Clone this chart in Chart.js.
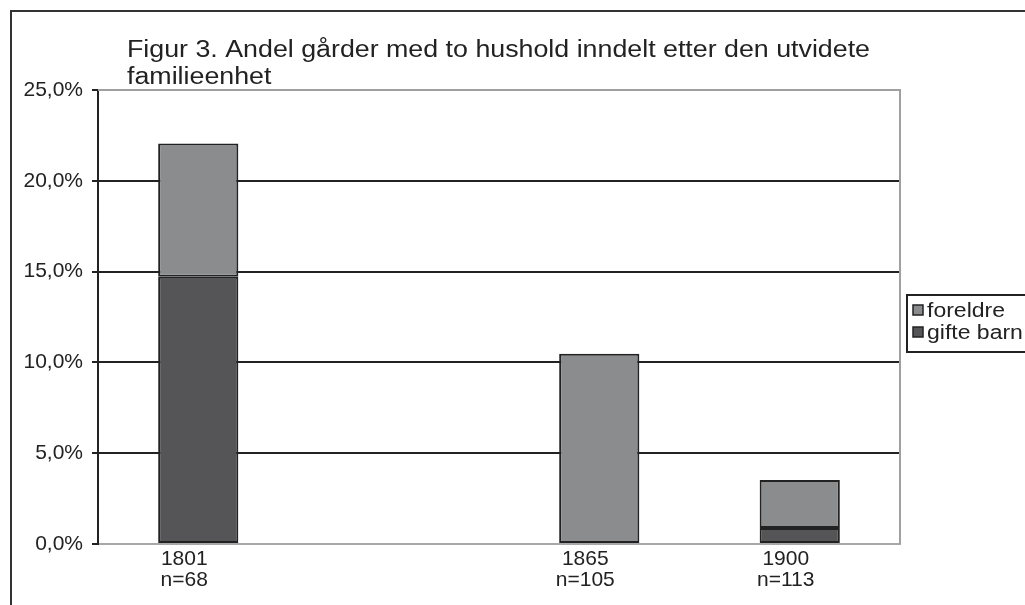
<!DOCTYPE html>
<html>
<head>
<meta charset="utf-8">
<script src="https://cdn.jsdelivr.net/npm/chart.js@4/dist/chart.umd.min.js"></script>
<style>
  html, body { margin: 0; padding: 0; background: #fff; }
  canvas { display: block; }
</style>
</head>
<body>
<canvas id="c" width="1025" height="605"></canvas>
<script>
const categories = ['1801', '', '1865', '1900'];
const nLabels = ['n=68', '', 'n=105', 'n=113'];
const foreldre = [7.35, null, 10.48, 2.65];
const gifteBarn = [14.71, null, 0, 0.88];
const seriesNames = ['foreldre', 'gifte barn'];
const titleLines = ['Figur 3. Andel gårder med to hushold inndelt etter den utvidete', 'familieenhet'];
const yMin = 0, yMax = 25, yStep = 5;

const FONT = '"Liberation Sans", Arial, sans-serif';
const colForeldre = '#8b8c8e';
const colGifte = '#555557';
const colEdge = '#222222';

function stretchText(ctx, text, x, y, sx) {
  ctx.save();
  ctx.translate(x, y);
  ctx.scale(sx, 1);
  ctx.fillText(text, 0, 0);
  ctx.restore();
}

const decor = {
  id: 'decor',
  afterDraw(chart) {
    const ctx = chart.ctx;
    const a = chart.chartArea;
    ctx.save();
    // outer frame
    ctx.strokeStyle = '#333';
    ctx.lineWidth = 2;
    ctx.beginPath();
    ctx.moveTo(11, 605);
    ctx.lineTo(11, 11);
    ctx.lineTo(1025, 11);
    ctx.stroke();
    // plot border top and right
    ctx.strokeStyle = '#a0a0a0';
    ctx.lineWidth = 2;
    ctx.beginPath();
    ctx.moveTo(a.left, a.top);
    ctx.lineTo(a.right, a.top);
    ctx.lineTo(a.right, a.bottom);
    ctx.stroke();
    // title
    ctx.fillStyle = '#222';
    ctx.font = '23px ' + FONT;
    ctx.textBaseline = 'alphabetic';
    ctx.textAlign = 'left';
    const w0 = ctx.measureText(titleLines[0]).width;
    const sx = 743 / w0;
    titleLines.forEach((t, i) => stretchText(ctx, t, 127, 57 + i * 27, sx));
    // legend
    const lx = 907, ly = 295, lw = 130, lh = 57;
    ctx.fillStyle = '#fff';
    ctx.fillRect(lx, ly, lw, lh);
    ctx.strokeStyle = '#222';
    ctx.lineWidth = 2;
    ctx.strokeRect(lx, ly, lw, lh);
    const items = [[seriesNames[0], colForeldre], [seriesNames[1], colGifte]];
    ctx.font = '20px ' + FONT;
    items.forEach((it, i) => {
      const cy = 310 + i * 22;
      ctx.fillStyle = it[1];
      ctx.fillRect(913, cy - 5, 10, 10);
      ctx.strokeStyle = '#222';
      ctx.lineWidth = 1.5;
      ctx.strokeRect(913, cy - 5, 10, 10);
      ctx.fillStyle = '#222';
      stretchText(ctx, it[0], 927, cy + 7, 1.15);
    });
    ctx.restore();
  }
};

new Chart(document.getElementById('c'), {
  type: 'bar',
  data: {
    labels: categories.map((c, i) => c ? [c, nLabels[i]] : ''),
    datasets: [
      { label: seriesNames[1], data: gifteBarn, backgroundColor: colGifte, borderColor: colEdge, borderWidth: 2, borderSkipped: false, order: 1 },
      { label: seriesNames[0], data: foreldre, backgroundColor: colForeldre, borderColor: colEdge, borderWidth: 2, borderSkipped: false, order: 2 }
    ]
  },
  options: {
    responsive: false,
    animation: false,
    layout: { padding: { left: 10, top: 90, right: 125, bottom: 0 } },
    datasets: { bar: { barPercentage: 0.4, categoryPercentage: 1.0 } },
    plugins: { legend: { display: false }, title: { display: false }, tooltip: { enabled: false } },
    scales: {
      x: {
        stacked: true,
        grid: { display: false },
        border: { display: true, color: '#a8a8a8', width: 2 },
        ticks: { color: '#222', font: { family: FONT, size: 21, lineHeight: 1.0 }, labelOffset: -14, padding: -3, maxRotation: 0, autoSkip: false },
        afterFit(s) { s.height = 61; }
      },
      y: {
        stacked: true,
        min: yMin, max: yMax,
        border: { display: true, color: '#222', width: 2 },
        grid: {
          color: c => (c.tick && (c.tick.value === yMin || c.tick.value === yMax)) ? '#a8a8a8' : '#222',
          tickColor: '#222',
          lineWidth: 2,
          tickLength: 6
        },
        ticks: {
          stepSize: yStep,
          color: '#222',
          padding: 9,
          font: { family: FONT, size: 21 },
          callback: v => v.toFixed(1).replace('.', ',') + '%'
        },
        afterFit(s) { s.width = 88; }
      }
    }
  },
  plugins: [decor]
});
</script>
</body>
</html>
